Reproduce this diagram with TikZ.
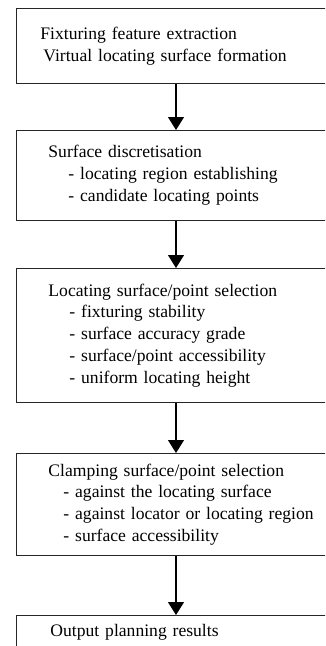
\documentclass[tikz,border=0pt]{standalone}
\usepackage{fontspec}
\setmainfont{Liberation Serif}
\usepackage{xcolor}
\usepackage{tikz}
\usetikzlibrary{arrows.meta, positioning}

\tikzset{
	stagebox/.style={draw=black!85, line width=0.9pt, anchor=north west, minimum width=330pt, text width=300pt, inner xsep=32pt, inner ysep=0pt, align=left, font=\fontsize{17.6}{21.8}\selectfont},
	flowarrow/.style={line width=1.2pt, -{Triangle[width=16pt,length=13pt]}}
}

\begin{document}
\begin{tikzpicture}[x=1pt, y=-1pt]
				\useasboundingbox (0,0) rectangle (325,646);
				\clip (0,0) rectangle (325,646);
				
				% Stages
				\node[stagebox, minimum height=75pt] (extract) at (16,8)
				{\hspace*{-8pt}Fixturing feature extraction\\
				 \hspace*{-5pt}Virtual locating surface formation};
				\node[stagebox, minimum height=90pt] (discret) at (16,130)
				{Surface discretisation\\
				 \hspace*{20pt}- locating region establishing\\
				 \hspace*{20pt}- candidate locating points};
				\node[stagebox, minimum height=134pt] (locsel) at (16,268)
				{Locating surface/point selection\\
				 \hspace*{21pt}- fixturing stability\\
				 \hspace*{21pt}- surface accuracy grade\\
				 \hspace*{21pt}- surface/point accessibility\\
				 \hspace*{21pt}- uniform locating height};
				\node[stagebox, minimum height=102pt] (clampsel) at (16,453)
				{Clamping surface/point selection\\
				 \hspace*{15pt}- against the locating surface\\
				 \hspace*{15pt}- against locator or locating region\\
				 \hspace*{15pt}- surface accessibility};
				\node[stagebox, minimum height=50pt, text depth=20pt] (output) at (16,615)
				{\hspace*{2pt}Output planning results};
				
				% Arrows
				\coordinate (mid) at (176,0);
				\draw[flowarrow] (extract.south -| mid) -- (discret.north -| mid);
				\draw[flowarrow] (discret.south -| mid) -- (locsel.north -| mid);
				\draw[flowarrow] (locsel.south -| mid) -- (clampsel.north -| mid);
				\draw[flowarrow] (clampsel.south -| mid) -- (output.north -| mid);
\end{tikzpicture}
\end{document}
